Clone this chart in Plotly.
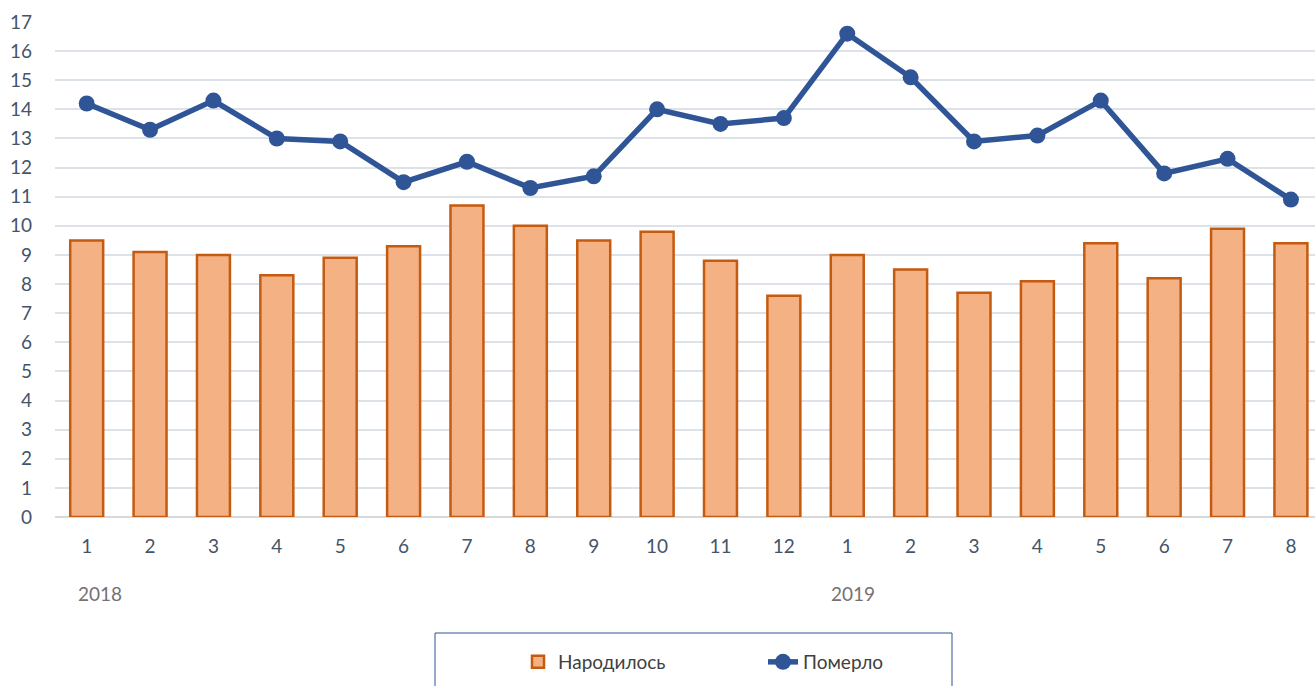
import plotly.graph_objects as go

months = ["1", "2", "3", "4", "5", "6", "7", "8", "9", "10", "11", "12",
          "1", "2", "3", "4", "5", "6", "7", "8"]
years = ["2018", "2019"]
born = [9.5, 9.1, 9.0, 8.3, 8.9, 9.3, 10.7, 10.0, 9.5, 9.8, 8.8, 7.6,
        9.0, 8.5, 7.7, 8.1, 9.4, 8.2, 9.9, 9.4]
died = [14.2, 13.3, 14.3, 13.0, 12.9, 11.5, 12.2, 11.3, 11.7, 14.0, 13.5, 13.7,
        16.6, 15.1, 12.9, 13.1, 14.3, 11.8, 12.3, 10.9]

x = list(range(len(months)))
FONT = "Lato"

fig = go.Figure()
fig.add_trace(go.Bar(
    x=x, y=born, name="Народилось", width=0.52,
    marker=dict(color="#F4B183", line=dict(color="#C55A11", width=2.5)),
))
fig.add_trace(go.Scatter(
    x=x, y=died, name="Померло", mode="lines+markers",
    line=dict(color="#2F5597", width=5.5),
    marker=dict(color="#2F5597", size=16),
))

W, H = 1315, 686
L, T, B = 55, 22, 169

plot_w = W - L
plot_h = H - T - B
for label, px in zip(years, [100, 853]):
    fig.add_annotation(
        text=label, xref="paper", yref="paper",
        x=(px - L) / plot_w, y=-(593 - 517) / plot_h,
        showarrow=False, font=dict(family=FONT, size=19, color="#767171"),
        xanchor="center", yanchor="middle",
    )

fig.add_shape(
    type="rect", xref="paper", yref="paper",
    x0=(435 - L) / plot_w, x1=(952 - L) / plot_w,
    y0=-(700 - 517) / plot_h, y1=-(633 - 517) / plot_h,
    line=dict(color="#2F5597", width=1), fillcolor="rgba(0,0,0,0)",
)

fig.update_layout(
    width=W, height=H,
    margin=dict(l=L, r=0, t=T, b=B, autoexpand=False),
    plot_bgcolor="white", paper_bgcolor="white",
    font=dict(family=FONT, size=19, color="#44546A"),
    bargap=0.48,
    showlegend=True,
    legend=dict(
        orientation="h", xref="container", yref="container",
        x=518 / W, xanchor="left", y=(686 - 662) / H, yanchor="middle",
        font=dict(family=FONT, size=19, color="#404040"),
        bgcolor="rgba(0,0,0,0)", entrywidth=200, entrywidthmode="pixels",
    ),
    xaxis=dict(
        tickmode="array", tickvals=x, ticktext=months,
        range=[-0.5, 19.38], showgrid=False, zeroline=False,
        showline=False, ticks="", ticklabelstandoff=16, automargin=False,
        tickfont=dict(family=FONT, size=19, color="#44546A"),
    ),
    yaxis=dict(
        range=[0, 17], dtick=1, tick0=0,
        showgrid=True, gridcolor="#DDE2E9", gridwidth=1.5,
        zeroline=True, zerolinecolor="#D9D9D9", zerolinewidth=1.5,
        showline=False, ticks="", ticklabelstandoff=22, automargin=False,
        tickfont=dict(family=FONT, size=19, color="#44546A"),
    ),
)

fig.write_html(
    "out.html",
    config={"displayModeBar": False},
    post_script="document.body.style.margin='0';document.body.style.overflow='hidden';",
)
